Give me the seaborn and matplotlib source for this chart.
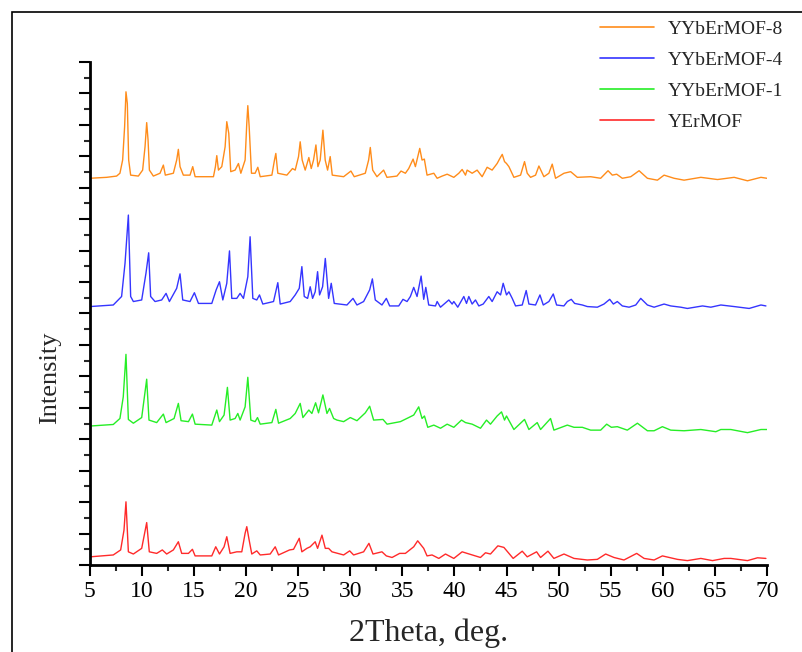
import numpy as np
import pandas as pd
import matplotlib
matplotlib.use('Agg')
import matplotlib.pyplot as plt
from matplotlib.patches import Rectangle
from matplotlib.ticker import MultipleLocator
import seaborn as sns

# XRD patterns (stacked, arbitrary intensity units)
names = ['YYbErMOF-8', 'YYbErMOF-4', 'YYbErMOF-1', 'YErMOF']
colors = ['#FF8C1A', '#3535FF', '#26EE26', '#FF2A2A']

mof8_x = [5.0, 6.6, 7.56, 7.88, 8.14, 8.33, 8.46, 8.59, 8.72, 8.91, 9.65, 10.06, 10.29, 10.45, 10.58, 10.71,
          11.09, 11.73, 12.05, 12.24, 13.01, 13.33, 13.49, 13.65, 13.97, 14.61, 14.87, 15.10, 16.86, 17.05,
          17.18, 17.34, 17.66, 17.98, 18.14, 18.33, 18.52, 18.94, 19.26, 19.49, 19.90, 20.06, 20.16, 20.29,
          20.51, 20.86, 21.12, 21.35, 22.47, 22.72, 22.85, 23.04, 23.91, 24.45, 24.71, 25.03, 25.19, 25.38,
          25.67, 26.02, 26.25, 26.47, 26.70, 26.89, 27.11, 27.37, 27.59, 27.82, 28.07, 28.27, 29.36, 30.06,
          30.38, 31.44, 31.76, 31.92, 32.15, 32.56, 33.20, 33.52, 34.48, 34.87, 35.29, 35.61, 36.03, 36.25,
          36.67, 36.89, 37.11, 37.37, 38.02, 38.34, 38.82, 39.30, 39.94, 40.42, 40.74, 41.06, 41.22, 41.70,
          42.18, 42.66, 43.14, 43.62, 44.10, 44.36, 44.59, 44.81, 45.00, 45.23, 45.71, 46.35, 46.73, 46.99,
          47.31, 47.79, 48.11, 48.59, 49.07, 49.39, 49.71, 50.52, 51.16, 51.80, 53.08, 54.04, 54.75, 55.16,
          55.58, 56.12, 56.93, 57.73, 58.53, 59.49, 60.13, 61.09, 62.05, 63.66, 65.26, 66.86, 68.14, 69.43,
          70.00]
mof8_y = [12.30, 12.33, 12.37, 12.46, 12.88, 13.94, 15.05, 14.68, 12.88, 12.40, 12.37, 12.56, 13.30, 14.07,
          13.52, 12.56, 12.37, 12.46, 12.72, 12.40, 12.46, 12.88, 13.22, 12.67, 12.40, 12.40, 12.67, 12.35,
          12.35, 12.67, 13.02, 12.56, 12.67, 13.30, 14.10, 13.73, 12.51, 12.56, 12.77, 12.46, 12.88, 14.05,
          14.61, 13.94, 12.46, 12.46, 12.65, 12.35, 12.40, 12.88, 13.09, 12.46, 12.40, 12.61, 12.56, 12.99,
          13.46, 12.88, 12.56, 12.96, 12.61, 12.88, 13.36, 12.67, 12.88, 13.83, 12.88, 12.56, 12.99, 12.40,
          12.35, 12.53, 12.35, 12.46, 12.88, 13.28, 12.56, 12.35, 12.56, 12.33, 12.37, 12.53, 12.46, 12.61,
          12.91, 12.67, 13.25, 12.88, 12.91, 12.40, 12.46, 12.30, 12.37, 12.43, 12.33, 12.46, 12.58, 12.40,
          12.56, 12.46, 12.56, 12.35, 12.65, 12.56, 12.77, 12.93, 13.06, 12.83, 12.77, 12.67, 12.33, 12.40,
          12.83, 12.46, 12.33, 12.40, 12.69, 12.35, 12.46, 12.75, 12.30, 12.46, 12.51, 12.33, 12.35, 12.30,
          12.54, 12.40, 12.43, 12.30, 12.35, 12.54, 12.30, 12.24, 12.40, 12.30, 12.24, 12.33, 12.26, 12.33,
          12.22, 12.33, 12.30]

mof4_x = [5.0, 7.24, 8.04, 8.37, 8.69, 8.91, 9.17, 9.97, 10.38, 10.64, 10.83, 11.25, 11.89, 12.31, 12.63,
          13.33, 13.65, 13.91, 14.61, 15.03, 15.42, 16.70, 17.12, 17.44, 17.76, 18.14, 18.40, 18.62, 19.10,
          19.42, 19.74, 20.16, 20.38, 20.64, 21.02, 21.28, 21.60, 22.63, 23.04, 23.27, 24.23, 24.71, 25.10,
          25.35, 25.58, 25.90, 26.15, 26.38, 26.63, 26.86, 27.05, 27.34, 27.60, 27.92, 28.17, 28.46, 29.68,
          30.26, 30.64, 31.28, 31.86, 32.12, 32.40, 33.04, 33.46, 33.78, 34.65, 35.06, 35.45, 35.77, 36.09,
          36.41, 36.80, 37.05, 37.25, 37.53, 38.18, 38.34, 38.66, 39.46, 39.78, 39.94, 40.32, 40.90, 41.16,
          41.38, 41.70, 42.02, 42.34, 42.76, 43.30, 43.62, 44.10, 44.43, 44.68, 45.00, 45.23, 45.55, 45.87,
          46.51, 46.89, 47.15, 47.79, 48.21, 48.53, 49.07, 49.49, 49.81, 50.51, 50.84, 51.22, 51.54, 52.28,
          52.76, 53.72, 54.36, 54.91, 55.26, 55.64, 56.12, 56.77, 57.41, 57.89, 58.53, 59.17, 60.13, 60.77,
          61.73, 62.37, 63.82, 64.62, 65.58, 66.86, 68.30, 69.43, 69.91]
mof4_y = [8.22, 8.27, 8.54, 9.60, 11.13, 8.54, 8.38, 8.43, 9.28, 9.93, 8.54, 8.38, 8.43, 8.64, 8.38,
          8.80, 9.26, 8.43, 8.38, 8.66, 8.32, 8.32, 8.75, 9.01, 8.43, 8.96, 9.99, 8.48, 8.48,
          8.64, 8.48, 9.17, 10.44, 8.48, 8.43, 8.59, 8.30, 8.38, 8.98, 8.30, 8.38, 8.59, 8.80,
          9.49, 8.54, 8.48, 8.85, 8.48, 8.69, 9.33, 8.59, 8.85, 9.75, 8.48, 8.96, 8.32, 8.27,
          8.48, 8.27, 8.38, 8.75, 9.10, 8.43, 8.27, 8.48, 8.24, 8.24, 8.45, 8.38, 8.54, 8.83,
          8.54, 9.19, 8.45, 8.83, 8.27, 8.24, 8.38, 8.20, 8.43, 8.30, 8.38, 8.20, 8.54, 8.32,
          8.54, 8.30, 8.43, 8.24, 8.30, 8.54, 8.38, 8.69, 8.59, 8.96, 8.59, 8.69, 8.48, 8.24,
          8.27, 8.73, 8.30, 8.27, 8.59, 8.27, 8.38, 8.62, 8.27, 8.24, 8.38, 8.45, 8.32, 8.27,
          8.22, 8.20, 8.30, 8.45, 8.30, 8.38, 8.24, 8.20, 8.27, 8.48, 8.27, 8.20, 8.30, 8.24,
          8.20, 8.16, 8.24, 8.20, 8.27, 8.22, 8.16, 8.27, 8.24]

mof1_x = [5.0, 7.24, 7.88, 8.20, 8.46, 8.69, 9.17, 9.97, 10.45, 10.67, 11.41, 12.05, 12.31, 13.08, 13.49,
          13.75, 14.46, 14.84, 15.10, 16.70, 17.18, 17.44, 17.88, 18.20, 18.46, 18.94, 19.20, 19.42, 19.90,
          20.16, 20.45, 20.86, 21.09, 21.35, 22.47, 22.85, 23.11, 24.23, 24.71, 25.19, 25.45, 26.02, 26.31,
          26.67, 26.95, 27.37, 27.76, 28.01, 28.40, 28.72, 29.36, 30.00, 30.64, 31.44, 31.86, 32.24, 33.14,
          33.53, 34.81, 35.61, 36.09, 36.57, 36.89, 37.12, 37.44, 38.02, 38.66, 39.30, 39.94, 40.68, 41.06,
          41.70, 42.50, 43.08, 43.46, 44.10, 44.52, 44.81, 45.00, 45.71, 46.73, 47.15, 47.95, 48.27, 49.23,
          49.55, 50.84, 51.48, 52.28, 53.08, 54.04, 54.62, 55.07, 55.64, 56.60, 57.57, 58.53, 59.17, 59.97,
          60.77, 62.05, 63.66, 65.10, 65.58, 66.54, 68.14, 69.43, 70.00]
mof1_y = [4.42, 4.47, 4.66, 5.35, 6.70, 4.63, 4.51, 4.69, 5.91, 4.61, 4.53, 4.80, 4.53, 4.66, 5.14,
          4.59, 4.56, 4.80, 4.48, 4.45, 4.93, 4.56, 4.77, 5.65, 4.61, 4.66, 4.82, 4.61, 5.03,
          5.97, 4.61, 4.56, 4.69, 4.48, 4.53, 4.95, 4.51, 4.66, 4.82, 5.14, 4.69, 4.93, 4.82,
          5.16, 4.84, 5.41, 4.82, 4.98, 4.66, 4.61, 4.56, 4.69, 4.59, 4.84, 5.05, 4.61, 4.63,
          4.48, 4.56, 4.69, 4.77, 5.03, 4.66, 4.74, 4.38, 4.45, 4.35, 4.48, 4.38, 4.61, 4.53,
          4.48, 4.35, 4.61, 4.48, 4.74, 4.87, 4.61, 4.74, 4.31, 4.63, 4.31, 4.53, 4.31, 4.66,
          4.29, 4.45, 4.38, 4.38, 4.29, 4.29, 4.48, 4.38, 4.40, 4.29, 4.51, 4.27, 4.27, 4.40,
          4.29, 4.27, 4.31, 4.24, 4.31, 4.31, 4.21, 4.31, 4.31]

yer_x = [5.0, 7.24, 7.95, 8.27, 8.46, 8.69, 9.17, 9.97, 10.45, 10.70, 11.41, 11.95, 12.37, 13.01, 13.49,
         13.81, 14.46, 14.84, 15.10, 16.70, 17.08, 17.44, 17.88, 18.14, 18.46, 19.10, 19.58, 19.90, 20.06,
         20.29, 20.54, 21.02, 21.35, 22.31, 22.79, 23.11, 24.17, 24.55, 25.10, 25.35, 25.83, 26.15, 26.63,
         26.86, 27.28, 27.60, 27.92, 28.24, 29.36, 29.94, 30.32, 31.28, 31.79, 32.18, 33.04, 33.46, 34.01,
         34.74, 35.29, 36.09, 36.47, 37.05, 37.37, 37.85, 38.50, 39.14, 39.94, 40.74, 41.22, 42.50, 42.98,
         43.46, 44.17, 44.75, 45.64, 46.51, 46.99, 47.89, 48.27, 48.98, 49.55, 50.52, 51.48, 52.76, 53.72,
         54.52, 55.32, 56.28, 57.50, 58.21, 59.17, 59.97, 61.41, 62.37, 63.66, 64.78, 65.90, 66.54, 68.14,
         69.10, 69.91]
yer_y = [0.26, 0.32, 0.48, 1.11, 2.01, 0.42, 0.35, 0.53, 1.35, 0.42, 0.37, 0.48, 0.35, 0.48, 0.74,
         0.37, 0.37, 0.50, 0.29, 0.29, 0.58, 0.35, 0.58, 0.90, 0.37, 0.42, 0.42, 1.01, 1.22,
         0.79, 0.35, 0.45, 0.32, 0.35, 0.58, 0.32, 0.48, 0.50, 0.85, 0.42, 0.53, 0.58, 0.74,
         0.53, 0.95, 0.53, 0.53, 0.42, 0.32, 0.45, 0.32, 0.42, 0.69, 0.35, 0.42, 0.29, 0.24,
         0.37, 0.37, 0.58, 0.77, 0.53, 0.29, 0.32, 0.21, 0.35, 0.21, 0.42, 0.37, 0.24, 0.39,
         0.35, 0.61, 0.56, 0.21, 0.44, 0.26, 0.42, 0.24, 0.44, 0.21, 0.35, 0.21, 0.16, 0.18,
         0.35, 0.24, 0.16, 0.37, 0.21, 0.16, 0.29, 0.18, 0.14, 0.21, 0.14, 0.21, 0.21, 0.14,
         0.23, 0.21]

frames = []
for name, xs, ys in zip(names, [mof8_x, mof4_x, mof1_x, yer_x], [mof8_y, mof4_y, mof1_y, yer_y]):
    frames.append(pd.DataFrame({'two_theta': xs, 'intensity': ys, 'sample': name}))
df = pd.concat(frames, ignore_index=True)

sns.set_style('ticks')
plt.rcParams['font.family'] = ['Liberation Serif', 'DejaVu Serif']

fig = plt.figure(figsize=(8.03, 6.52), dpi=100)
ax = fig.add_axes([0.112, 0.1334, 0.843, 0.7716])

sns.lineplot(data=df, x='two_theta', y='intensity', hue='sample', hue_order=names,
             palette=colors, estimator=None, sort=False, linewidth=1.0, ax=ax, legend=False)

ax.set_xlim(5, 70)
ax.set_ylim(0, 16)
ax.xaxis.set_major_locator(MultipleLocator(5))
ax.xaxis.set_minor_locator(MultipleLocator(2.5))
ax.yaxis.set_major_locator(MultipleLocator(1))
ax.yaxis.set_minor_locator(MultipleLocator(0.5))
ax.tick_params(axis='both', which='major', length=8, width=1.5, direction='out', labelsize=17, colors='black')
ax.tick_params(axis='both', which='minor', length=4, width=1.5, direction='out')
ax.tick_params(axis='y', which='both', labelleft=False)
for side in ['top', 'right']:
    ax.spines[side].set_visible(False)
for side in ['left', 'bottom']:
    ax.spines[side].set_linewidth(2)
    ax.spines[side].set_color('black')

ax.set_xlabel('2Theta, deg.', fontsize=23, labelpad=12)
ax.set_ylabel('Intensity', fontsize=19)
ax.yaxis.set_label_coords(-0.043, 0.372)

handles = [plt.Line2D([], [], color=c, lw=1.2) for c in colors]
fig.legend(handles, names, loc='upper left', bbox_to_anchor=(0.747, 0.969), frameon=False,
           fontsize=14, handlelength=2.8, handletextpad=0.7, labelspacing=0.69,
           borderpad=0, borderaxespad=0)

# outer frame of the original figure
fig.patches.append(Rectangle((12 / 803, -0.1), 1.2, 1.1 - 12 / 652, transform=fig.transFigure,
                             fill=False, edgecolor='black', linewidth=1.2, clip_on=False))

fig.savefig('out.png', dpi=100)
